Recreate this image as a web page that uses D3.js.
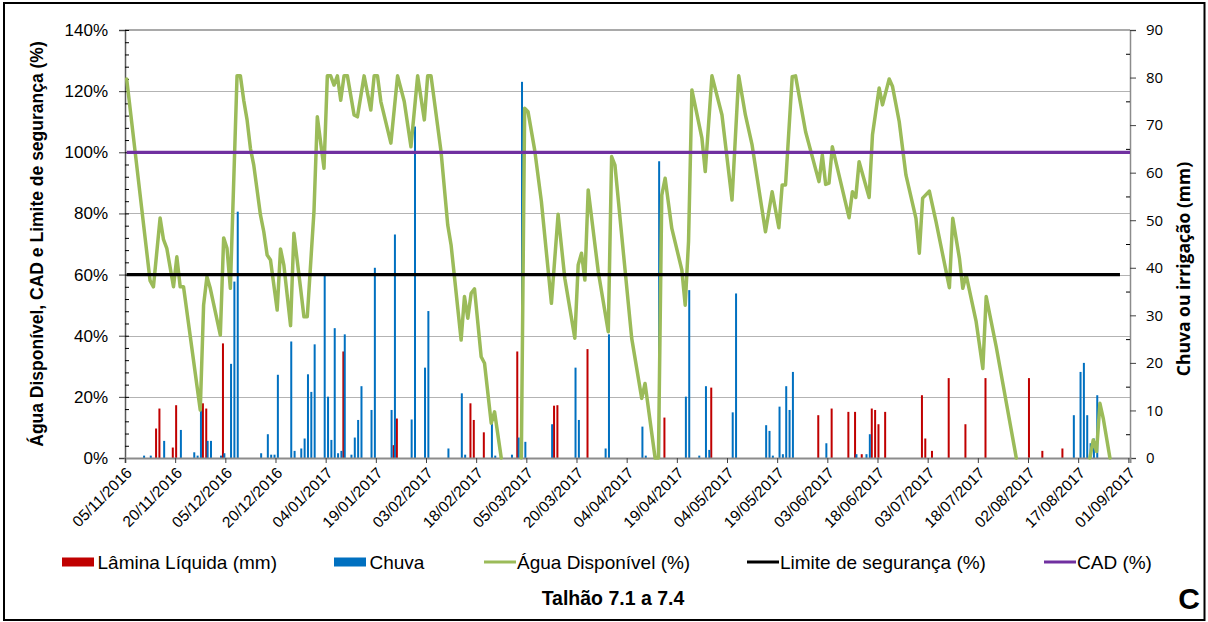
<!DOCTYPE html>
<html>
<head>
<meta charset="utf-8">
<script src="https://cdn.jsdelivr.net/npm/d3@7"></script>
<style>
  html, body { margin: 0; padding: 0; background: #fff; }
  svg { display: block; }
  text { font-family: "Liberation Sans", Arial, sans-serif; fill: #000; }
</style>
</head>
<body>
<svg id="chart" width="1208" height="622"></svg>
<script>
// ---- data -------------------------------------------------------------
const tickLabels = ["05/11/2016","20/11/2016","05/12/2016","20/12/2016","04/01/2017",
  "19/01/2017","03/02/2017","18/02/2017","05/03/2017","20/03/2017","04/04/2017",
  "19/04/2017","04/05/2017","19/05/2017","03/06/2017","18/06/2017","03/07/2017",
  "18/07/2017","02/08/2017","17/08/2017","01/09/2017"];
const periodStart = "05/11/2016";
const periodEnd = "01/09/2017";

const leftTicks = [0, 20, 40, 60, 80, 100, 120, 140];   // %
const rightTicks = [0, 10, 20, 30, 40, 50, 60, 70, 80, 90]; // mm

// Água Disponível (%) - null marks days without a plotted value
const aguaDisponivel = [
 ["05/11/2016",124],["12/11/2016",58],["13/11/2016",56],["15/11/2016",78.5],["16/11/2016",71.5],
 ["17/11/2016",68.6],["19/11/2016",56],["20/11/2016",65.8],["21/11/2016",56],["22/11/2016",56],
 ["27/11/2016",15.7],["28/11/2016",50],["29/11/2016",59.3],["30/11/2016",55.5],["03/12/2016",40.2],
 ["04/12/2016",72],["05/12/2016",68.6],["06/12/2016",55.5],["08/12/2016",125],["09/12/2016",125],
 ["10/12/2016",117],["11/12/2016",110.6],["12/12/2016",101.3],["13/12/2016",95.8],["15/12/2016",79.5],
 ["16/12/2016",74],["17/12/2016",66.4],["18/12/2016",64.8],["20/12/2016",48.4],["21/12/2016",68.4],
 ["22/12/2016",63.1],["24/12/2016",43.3],["25/12/2016",73.5],["27/12/2016",55.5],["28/12/2016",46.2],
 ["29/12/2016",46.2],["31/12/2016",80.6],["01/01/2017",111.6],["03/01/2017",94.8],["04/01/2017",125],
 ["05/01/2017",125],["06/01/2017",122],["07/01/2017",125],["08/01/2017",117],["09/01/2017",125],
 ["10/01/2017",125],["12/01/2017",112.2],["13/01/2017",111.6],["15/01/2017",125],["17/01/2017",113.8],
 ["18/01/2017",125],["19/01/2017",125],["20/01/2017",116.6],["23/01/2017",103],["25/01/2017",125],
 ["27/01/2017",116.6],["29/01/2017",101.8],["31/01/2017",125],["02/02/2017",110.6],["03/02/2017",125],
 ["04/02/2017",125],["07/02/2017",100.2],["09/02/2017",76.2],["10/02/2017",69.7],["12/02/2017",49],
 ["13/02/2017",38.6],["14/02/2017",52.8],["15/02/2017",45.7],["16/02/2017",53.9],["17/02/2017",55.3],
 ["19/02/2017",33.1],["20/02/2017",31],["22/02/2017",11.4],["23/02/2017",15.1],["25/02/2017",0],
 ["26/02/2017",null],["03/03/2017",0],["04/03/2017",114.4],["05/03/2017",113.3],["07/03/2017",100.7],
 ["09/03/2017",83.9],["12/03/2017",50.6],["14/03/2017",79.7],["16/03/2017",58.8],["19/03/2017",39.2],
 ["20/03/2017",63.1],["21/03/2017",67],["22/03/2017",58.2],["23/03/2017",87.7],["26/03/2017",61],
 ["29/03/2017",41.3],["30/03/2017",98.6],["31/03/2017",95.8],["02/04/2017",73],["05/04/2017",39.2],
 ["08/04/2017",19.5],["09/04/2017",24.4],["12/04/2017",0],["13/04/2017",0],["14/04/2017",86],
 ["15/04/2017",91.5],["17/04/2017",75.1],["20/04/2017",61.5],["21/04/2017",50],["22/04/2017",70.8],
 ["23/04/2017",120.4],["26/04/2017",104.6],["27/04/2017",93.7],["29/04/2017",125],["02/05/2017",112.2],
 ["05/05/2017",84.4],["07/05/2017",125],["09/05/2017",112.2],["11/05/2017",102.4],["15/05/2017",74],
 ["17/05/2017",87.1],["19/05/2017",75.3],["20/05/2017",89.3],["21/05/2017",89.3],["23/05/2017",124.7],
 ["24/05/2017",125],["27/05/2017",106.7],["31/05/2017",90.4],["01/06/2017",99.1],["02/06/2017",89.5],
 ["03/06/2017",89.9],["04/06/2017",101.8],["09/06/2017",78.6],["10/06/2017",87.1],["11/06/2017",85.2],
 ["12/06/2017",96.9],["15/06/2017",85.2],["16/06/2017",105.7],["18/06/2017",121],["19/06/2017",115.5],
 ["21/06/2017",124],["22/06/2017",121.5],["24/06/2017",110],["26/06/2017",92.6],["29/06/2017",78.4],
 ["30/06/2017",67],["01/07/2017",85],["03/07/2017",87.3],["05/07/2017",77.3],["09/07/2017",55.7],
 ["10/07/2017",78.4],["12/07/2017",65.3],["13/07/2017",55.5],["14/07/2017",59.9],["17/07/2017",44.6],
 ["19/07/2017",29.3],["20/07/2017",52.8],["23/07/2017",36.4],["29/07/2017",0],["30/07/2017",null],
 ["20/08/2017",0],["21/08/2017",5.9],["22/08/2017",2.1],["23/08/2017",17.9],["24/08/2017",13],
 ["26/08/2017",0]
];

// Chuva (mm)
const chuva = [
 ["10/11/2016",0.5],["12/11/2016",0.5],["16/11/2016",3.6],["21/11/2016",5.9],["25/11/2016",1.2],
 ["26/11/2016",0.5],["27/11/2016",10.1],["29/11/2016",3.6],["30/11/2016",3.6],["03/12/2016",0.5],
 ["04/12/2016",1],["06/12/2016",19.8],["07/12/2016",37.1],["08/12/2016",51.8],["15/12/2016",1],
 ["17/12/2016",5],["18/12/2016",0.7],["19/12/2016",0.7],["20/12/2016",17.5],["24/12/2016",24.5],
 ["25/12/2016",1.5],["27/12/2016",2],["28/12/2016",4.1],["29/12/2016",17.6],["30/12/2016",13.9],
 ["31/12/2016",23.9],["03/01/2017",38.3],["04/01/2017",12.9],["05/01/2017",3.8],["06/01/2017",27.3],
 ["07/01/2017",1],["08/01/2017",1.5],["09/01/2017",26],["11/01/2017",0.7],["12/01/2017",4.3],
 ["13/01/2017",8],["14/01/2017",15.1],["17/01/2017",10.1],["18/01/2017",40],["23/01/2017",10.1],
 ["24/01/2017",47],["29/01/2017",8.1],["30/01/2017",69.7],["02/02/2017",19],["03/02/2017",30.9],
 ["09/02/2017",2],["13/02/2017",13.6],["14/02/2017",0.7],["22/02/2017",7.3],["23/02/2017",0.5],
 ["28/02/2017",0.7],["02/03/2017",4.3],["03/03/2017",79.1],["04/03/2017",3.4],["12/03/2017",7.1],
 ["19/03/2017",19],["20/03/2017",8],["28/03/2017",2],["29/03/2017",26],["08/04/2017",6.6],
 ["09/04/2017",0.5],["13/04/2017",62.4],["21/04/2017",12.9],["22/04/2017",35.3],["25/04/2017",0.5],
 ["27/04/2017",15.1],["28/04/2017",1.7],["05/05/2017",9.6],["06/05/2017",34.6],["15/05/2017",6.9],
 ["16/05/2017",5.7],["17/05/2017",0.5],["19/05/2017",10.8],["20/05/2017",0.8],["21/05/2017",15.1],
 ["22/05/2017",10.1],["23/05/2017",18.1],["02/06/2017",3.1],["11/06/2017",0.8],["14/06/2017",0.8],
 ["15/06/2017",5],["15/08/2017",9],["17/08/2017",18.1],["18/08/2017",20],["19/08/2017",9],
 ["20/08/2017",3.1],["21/08/2017",4.1],["22/08/2017",13.2]
];

// Lâmina Líquida (mm)
const laminaLiquida = [
 ["14/11/2016",6.2],["15/11/2016",10.4],["19/11/2016",2.2],["20/11/2016",11.1],["28/11/2016",11.5],
 ["29/11/2016",10.4],["04/12/2016",24.1],["09/01/2017",22.4],["24/01/2017",2.7],["25/01/2017",8.3],
 ["16/02/2017",11.5],["17/02/2017",8],["20/02/2017",5.4],["02/03/2017",22.4],["13/03/2017",11],
 ["14/03/2017",11.1],["23/03/2017",22.9],["15/04/2017",8.5],["29/04/2017",14.8],["31/05/2017",9],
 ["04/06/2017",10.4],["09/06/2017",9.7],["11/06/2017",9.7],["13/06/2017",0.8],["16/06/2017",10.4],
 ["17/06/2017",10.1],["18/06/2017",7.1],["20/06/2017",9.7],["01/07/2017",13.2],["02/07/2017",4.1],
 ["04/07/2017",1.5],["09/07/2017",16.8],["14/07/2017",7.1],["20/07/2017",16.8],["02/08/2017",16.8],
 ["06/08/2017",1.5],["12/08/2017",2]
];

// constant reference levels (%) and the days they cover
const limiteSeguranca = { valor: 60, inicio: "05/11/2016", fim: "29/08/2017" };
const cad = { valor: 100, inicio: "05/11/2016", fim: "01/09/2017" };

const legendItems = [
  { label: "Lâmina Líquida (mm)", type: "bar", color: "#c00000" },
  { label: "Chuva", type: "bar", color: "#0070c0" },
  { label: "Água Disponível (%)", type: "line", color: "#9bbb59" },
  { label: "Limite de segurança (%)", type: "line", color: "#000000" },
  { label: "CAD (%)", type: "line", color: "#7030a0" }
];

// ---- setup ------------------------------------------------------------
const parse = d3.utcParse("%d/%m/%Y");
const svg = d3.select("#chart");
const W = 1208, H = 622;
const plot = { left: 125, right: 1130, top: 30, bottom: 458 };

// each day occupies one slot; values sit at the middle of their slot
const x = d3.scaleUtc()
  .domain([parse(periodStart), d3.utcHour.offset(parse(periodEnd), 12)])
  .range([plot.left, plot.right]);
const cx = d => x(d3.utcHour.offset(d, 12));
const yL = d3.scaleLinear().domain([0, 140]).range([plot.bottom, plot.top]);
const yR = d3.scaleLinear().domain([0, 90]).range([plot.bottom, plot.top]);

const pairs = arr => arr.map(([d, v]) => ({ date: parse(d), v }));
const aguaData = pairs(aguaDisponivel);
const chuvaData = pairs(chuva);
const laminaData = pairs(laminaLiquida);

// outer frame
svg.append("rect").attr("x", 4).attr("y", 3).attr("width", W - 7.5).attr("height", H - 5)
  .attr("fill", "#fff").attr("stroke", "#000").attr("stroke-width", 2);

// horizontal gridlines
svg.append("g").selectAll("line").data(leftTicks.filter(v => v > 0 && v < 140)).join("line")
  .attr("x1", plot.left).attr("x2", plot.right)
  .attr("y1", d => Math.round(yL(d)) + 0.5).attr("y2", d => Math.round(yL(d)) + 0.5)
  .attr("stroke", "#b3b3b3").attr("stroke-width", 1);

// plot top edge
svg.append("line").attr("x1", plot.left).attr("x2", plot.right)
  .attr("y1", plot.top).attr("y2", plot.top).attr("stroke", "#8c8c8c").attr("stroke-width", 1.5);

// bars
const bars = svg.append("g");
bars.selectAll("rect.lamina").data(laminaData).join("rect").attr("class", "lamina")
  .attr("x", d => cx(d.date) - 1.7).attr("width", 2)
  .attr("y", d => yR(d.v)).attr("height", d => yR(0) - yR(d.v))
  .attr("fill", "#c00000");
bars.selectAll("rect.chuva").data(chuvaData).join("rect").attr("class", "chuva")
  .attr("x", d => cx(d.date) - 0.3).attr("width", 2)
  .attr("y", d => yR(d.v)).attr("height", d => yR(0) - yR(d.v))
  .attr("fill", "#0070c0");

// axes
const leftAxis = svg.append("g").attr("transform", `translate(${plot.left},0)`)
  .call(d3.axisLeft(yL).tickValues(leftTicks).tickSize(6).tickPadding(11).tickFormat(d => d + "%"));
svg.append("g").attr("transform", `translate(${plot.left},0)`)
  .call(d3.axisRight(yL).tickValues(d3.range(0, 141, 4)).tickSize(4).tickFormat(""))
  .call(g => g.select(".domain").remove());
leftAxis.select(".domain").attr("stroke", "#595959").attr("stroke-width", 1.5);
leftAxis.selectAll(".tick line").attr("stroke", "#404040");
leftAxis.selectAll("text").style("font-family", "Liberation Sans, Arial, sans-serif")
  .style("font-size", "17px").attr("fill", "#000");

const rightAxis = svg.append("g").attr("transform", `translate(${plot.right},0)`)
  .call(d3.axisRight(yR).tickValues(rightTicks).tickSize(6).tickPadding(10));
svg.append("g").attr("transform", `translate(${plot.right},0)`)
  .call(d3.axisLeft(yR).tickValues(d3.range(5, 90, 10)).tickSize(4).tickFormat(""))
  .call(g => g.select(".domain").remove());
rightAxis.select(".domain").attr("stroke", "#8c8c8c").attr("stroke-width", 1.5);
rightAxis.selectAll(".tick line").attr("stroke", "#404040");
rightAxis.selectAll("text").style("font-family", "Open Sans, sans-serif")
  .style("font-size", "15px").attr("fill", "#000");

const xAxis = svg.append("g").attr("transform", `translate(0,${plot.bottom})`)
  .call(d3.axisBottom(x).tickValues(tickLabels.map(parse)).tickSize(5).tickFormat(""));
xAxis.select(".domain").attr("stroke", "#8c8c8c").attr("stroke-width", 2);
xAxis.selectAll(".tick line").attr("stroke", "#404040");
svg.append("g").selectAll("text").data(tickLabels).join("text")
  .attr("transform", d => `translate(${x(parse(d)) + 4},${plot.bottom + 12}) rotate(-45)`)
  .attr("text-anchor", "end").attr("dy", "0.35em")
  .style("font-size", "15.5px").text(d => d);

// lines
const lineAgua = d3.line().defined(d => d.v !== null)
  .x(d => cx(d.date)).y(d => yL(d.v));
svg.append("path").datum(aguaData).attr("d", lineAgua)
  .attr("fill", "none").attr("stroke", "#9bbb59").attr("stroke-width", 3.5)
  .attr("stroke-linejoin", "round").attr("stroke-linecap", "round");

const flat = ref => d3.line()([
  [cx(parse(ref.inicio)), yL(ref.valor)], [cx(parse(ref.fim)), yL(ref.valor)]]);
svg.append("path").attr("d", flat(limiteSeguranca))
  .attr("stroke", "#000").attr("stroke-width", 3.2).attr("fill", "none");
svg.append("path").attr("d", flat(cad))
  .attr("stroke", "#7030a0").attr("stroke-width", 3.2).attr("fill", "none");

// axis titles
svg.append("text")
  .attr("transform", `translate(43,${(plot.top + plot.bottom) / 2}) rotate(-90)`)
  .attr("text-anchor", "middle").style("font-size", "17.5px").style("font-weight", "bold")
  .text("Água Disponível, CAD e Limite de segurança (%)");
svg.append("text")
  .attr("transform", `translate(1190,269) rotate(-90)`)
  .attr("text-anchor", "middle").style("font-family", "Open Sans, sans-serif")
  .style("font-size", "17.5px").style("font-weight", "bold")
  .text("Chuva ou irrigação (mm)");

// legend
const legendX = [62, 334, 484, 747, 1044];
const legend = svg.append("g").attr("transform", "translate(0,562)");
legendItems.forEach((it, i) => {
  const g = legend.append("g").attr("transform", `translate(${legendX[i]},0)`);
  if (it.type === "bar") {
    g.append("rect").attr("x", 0).attr("y", -4.5).attr("width", 32).attr("height", 9).attr("fill", it.color);
  } else {
    g.append("line").attr("x1", 0).attr("x2", 32).attr("y1", 0).attr("y2", 0)
      .attr("stroke", it.color).attr("stroke-width", 3);
  }
  g.append("text").attr("x", it.type === "bar" ? 35.5 : 33).attr("dy", "0.36em")
    .style("font-size", "19px").text(it.label);
});

// panel caption and letter
svg.append("text").attr("x", 613).attr("y", 605).attr("text-anchor", "middle")
  .style("font-size", "19.5px").style("font-weight", "bold").text("Talhão 7.1 a 7.4");
svg.append("text").attr("x", 1189).attr("y", 609).attr("text-anchor", "middle")
  .style("font-size", "30px").style("font-weight", "bold").text("C");
</script>
</body>
</html>
